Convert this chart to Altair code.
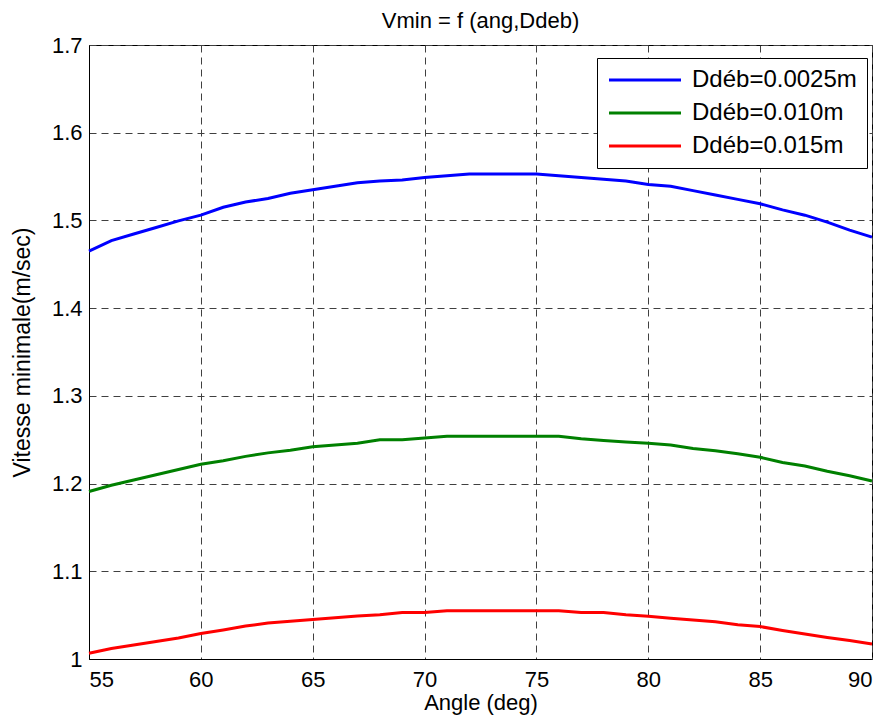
import altair as alt
import pandas as pd

angles = list(range(55, 91))

v_0025 = [1.465, 1.477, 1.4845, 1.492, 1.4995, 1.506, 1.515, 1.521, 1.525, 1.531,
          1.535, 1.539, 1.543, 1.545, 1.546, 1.549, 1.551, 1.553, 1.553, 1.553,
          1.553, 1.551, 1.549, 1.547, 1.545, 1.541, 1.539, 1.534, 1.529, 1.524,
          1.519, 1.512, 1.506, 1.498, 1.489, 1.481]

v_010 = [1.191, 1.198, 1.204, 1.210, 1.216, 1.222, 1.226, 1.231, 1.235, 1.238,
         1.242, 1.244, 1.246, 1.250, 1.250, 1.252, 1.254, 1.254, 1.254, 1.254,
         1.254, 1.254, 1.251, 1.249, 1.2475, 1.246, 1.244, 1.240, 1.2375, 1.234,
         1.230, 1.224, 1.220, 1.214, 1.209, 1.203]

v_015 = [1.0065, 1.012, 1.016, 1.020, 1.024, 1.029, 1.033, 1.0375, 1.041, 1.043,
         1.045, 1.047, 1.049, 1.0505, 1.053, 1.053, 1.055, 1.055, 1.055, 1.055,
         1.055, 1.055, 1.053, 1.053, 1.0505, 1.0487, 1.0465, 1.0445, 1.0425, 1.039,
         1.037, 1.0325, 1.0285, 1.0245, 1.021, 1.017]

series_names = ["Ddéb=0.0025m", "Ddéb=0.010m", "Ddéb=0.015m"]
series_colors = ["#0000FF", "#008000", "#FF0000"]

x_ticks = [55, 60, 65, 70, 75, 80, 85, 90]
y_ticks = [1.0, 1.1, 1.2, 1.3, 1.4, 1.5, 1.6, 1.7]

rows = []
for name, vals in zip(series_names, [v_0025, v_010, v_015]):
    for a, v in zip(angles, vals):
        rows.append({"angle": a, "vitesse": v, "serie": name})
df = pd.DataFrame(rows)

FONT = "Liberation Sans"

chart = alt.Chart(df).mark_line(strokeWidth=3).encode(
    x=alt.X("angle:Q",
            scale=alt.Scale(domain=[55, 90], nice=False, zero=False),
            axis=alt.Axis(values=x_ticks, title="Angle (deg)", format="d",
                          titleY=50, titleBaseline="alphabetic")),
    y=alt.Y("vitesse:Q",
            scale=alt.Scale(domain=[1.0, 1.7], nice=False, zero=False),
            axis=alt.Axis(values=y_ticks, title="Vitesse minimale(m/sec)", format="~g",
                          titleX=-60, titleY=307, titleAngle=270, titleFontSize=23,
                          titleBaseline="alphabetic", titleAlign="center")),
    color=alt.Color("serie:N",
                    scale=alt.Scale(domain=series_names, range=series_colors),
                    legend=alt.Legend(
                        title=None, orient="none", legendX=508, legendY=13,
                        symbolType="M-1,0H6.2", symbolSize=400, symbolStrokeWidth=3,
                        labelOffset=61, labelFontSize=24, labelFont=FONT,
                        labelLimit=400,
                        labelColor="black", rowPadding=9, padding=10,
                        strokeColor="black", fillColor="white", cornerRadius=0,
                    )),
).properties(
    width=783,
    height=614,
    title=alt.TitleParams("Vmin = f (ang,Ddeb)", fontSize=22, font=FONT,
                          fontWeight="normal", color="black", anchor="middle",
                          frame="group", offset=1),
    autosize=alt.AutoSizeParams(type="none"),
    padding={"left": 81, "top": 37, "right": 5, "bottom": 56},
).configure(
    background="white",
).configure_view(
    stroke="black", strokeWidth=1,
).configure_axis(
    labelFont=FONT, labelFontSize=22, labelColor="black",
    titleFont=FONT, titleFontSize=22, titleColor="black", titleFontWeight="normal",
    domainColor="black", domainWidth=1,
    ticks=False, tickSize=0,
    grid=True, gridColor="#404040", gridDash=[7, 5], gridWidth=1, gridOpacity=1,
    labelPadding=8,
).configure_axisX(
    labelPadding=10,
).configure_axisY(
    labelPadding=7,
)

chart.save("out.html", embed_options={"renderer": "svg", "actions": False})
